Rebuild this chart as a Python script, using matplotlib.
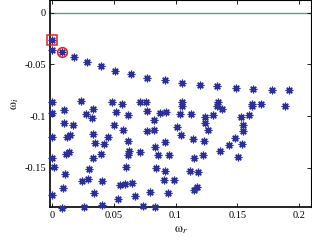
import matplotlib
matplotlib.use("Agg")
import matplotlib.pyplot as plt

# upper branch (arc of modes)
arc_wr = [0.0, 0.0, 0.0084, 0.0176, 0.0282, 0.0395, 0.0514, 0.0641, 0.0769,
          0.0915, 0.1053, 0.1196, 0.1337, 0.1488, 0.1626, 0.1780, 0.1916]
arc_wi = [-0.0261, -0.0358, -0.0381, -0.0429, -0.0476, -0.0519, -0.0561, -0.0597, -0.0629,
          -0.0655, -0.0677, -0.0696, -0.0713, -0.0725, -0.0735, -0.0745, -0.0748]

# scattered modes
sc_wr = [0.0, 0.0, 0.0, 0.0, 0.0016, 0.0,
         0.0100, 0.0235, 0.0330, 0.0276, 0.0329, 0.0100, 0.0169, 0.0126, 0.0144, 0.0335,
         0.0351, 0.0424, 0.0457, 0.0485, 0.0519, 0.0503, 0.0566, 0.0613, 0.0579, 0.0617,
         0.0625, 0.0617, 0.0714, 0.0714, 0.0759, 0.0769, 0.0769, 0.0824, 0.0824, 0.0834,
         0.0856, 0.0873, 0.0923, 0.0917, 0.0950, 0.1011, 0.1047, 0.1050, 0.1050, 0.1039,
         0.1128, 0.1234, 0.1303, 0.1343, 0.1339, 0.1376, 0.1242, 0.1262, 0.1139, 0.1226,
         0.1429, 0.1477, 0.1546, 0.1542, 0.1356, 0.1506, 0.1540, 0.1591, 0.1532, 0.1619,
         0.1615, 0.1688, 0.1883, 0.1149, 0.1223, 0.0842, 0.0912, 0.1120, 0.1183, 0.0903,
         0.0990, 0.0795, 0.0939, 0.1147, 0.1177, 0.0830, 0.0741, 0.0670, 0.0537, 0.0552,
         0.0591, 0.0647, 0.0601, 0.0118, 0.0142, 0.0330, 0.0394, 0.0106, 0.0298, 0.0246,
         0.0292, 0.0403, 0.0087, 0.0343, 0.0080, 0.0261, 0.0403]
sc_wi = [-0.0863, -0.0974, -0.1203, -0.1404, -0.1496, -0.1769,
         -0.0937, -0.0858, -0.0927, -0.0977, -0.1022, -0.1063, -0.1082, -0.1203, -0.1182, -0.1175,
         -0.1256, -0.1272, -0.1199, -0.0863, -0.0964, -0.1087, -0.0887, -0.0986, -0.1131, -0.1240,
         -0.1337, -0.1375, -0.1351, -0.0863, -0.0863, -0.0950, -0.1141, -0.1042, -0.1138, -0.1296,
         -0.1375, -0.0969, -0.0964, -0.1248, -0.1380, -0.1106, -0.1180, -0.0868, -0.0906, -0.0984,
         -0.0977, -0.1008, -0.0991, -0.0865, -0.0901, -0.0928, -0.1071, -0.1138, -0.1219, -0.1238,
         -0.1279, -0.1209, -0.1090, -0.1143, -0.1337, -0.1397, -0.1274, -0.0986, -0.1010, -0.0880,
         -0.0906, -0.0880, -0.0904, -0.1402, -0.1377, -0.1501, -0.1532, -0.1532, -0.1545, -0.1622,
         -0.1615, -0.1731, -0.1750, -0.1719, -0.1687, -0.1878, -0.1867, -0.1779, -0.1799, -0.1670,
         -0.1656, -0.1646, -0.1493, -0.1370, -0.1348, -0.1407, -0.1372, -0.1557, -0.1513, -0.1630,
         -0.1614, -0.1632, -0.1696, -0.1750, -0.1888, -0.1880, -0.1866]

# highlighted modes
sq_wr, sq_wi = [0.0], [-0.0261]
ci_wr, ci_wi = [0.0084], [-0.0381]

xticks = [0, 0.05, 0.1, 0.15, 0.2]
xticklabels = ["0", "0.05", "0.1", "0.15", "0.2"]
yticks = [0, -0.05, -0.1, -0.15]
yticklabels = ["0", "-0.05", "-0.1", "-0.15"]

plt.rcParams['mathtext.fontset'] = 'stix'
serif = 'Liberation Serif'

fig = plt.figure(figsize=(3.12, 2.42), dpi=100)
ax = fig.add_axes([0.160, 0.145, 0.837, 0.853])

star_col = '#2b2f98'
ax.axhline(0, color='#5f9f80', lw=1.0, zorder=1)
ax.plot(arc_wr + sc_wr, arc_wi + sc_wi, linestyle='none', marker=(8, 2, 0),
        ms=5.5, mew=0.9, mec=star_col, mfc=star_col, clip_on=False, zorder=3)
ax.plot(sq_wr, sq_wi, linestyle='none', marker='s', ms=7, mfc='none', mec='#e02020',
        mew=1.1, clip_on=False, zorder=4)
ax.plot(ci_wr, ci_wi, linestyle='none', marker='o', ms=7, mfc='none', mec='#e02020',
        mew=1.1, clip_on=False, zorder=4)

ax.set_xlim(-0.0015, 0.2095)
ax.set_ylim(-0.188, 0.012)
ax.set_xticks(xticks)
ax.set_xticklabels(xticklabels, fontfamily=serif, fontsize=7.5)
ax.set_yticks(yticks)
ax.set_yticklabels(yticklabels, fontfamily=serif, fontsize=7.5)
ax.tick_params(direction='in', length=3, width=0.6, top=True, right=True, pad=3)
for s in ax.spines.values():
    s.set_linewidth(0.8)
ax.spines['bottom'].set_linewidth(1.2)
ax.spines['left'].set_linewidth(1.2)

ax.set_xlabel(r'$\mathrm{\omega}_{r}$', fontsize=9, labelpad=2)
ax.set_ylabel(r'$\mathrm{\omega}_{i}$', fontsize=9, labelpad=2)

fig.savefig('out.png', dpi=100)
